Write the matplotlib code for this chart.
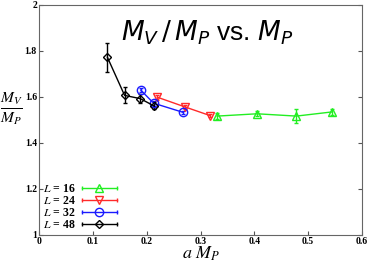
import matplotlib
matplotlib.use("Agg")
import matplotlib.pyplot as plt
from matplotlib.lines import Line2D
from matplotlib.legend_handler import HandlerBase

x16 = [0.331, 0.405, 0.478, 0.544]
y16 = [1.517, 1.527, 1.517, 1.535]
e16 = [0.012, 0.010, 0.030, 0.012]

x24 = [0.220, 0.271, 0.318]
y24 = [1.599, 1.557, 1.519]
e24 = [0.010, 0.008, 0.006]

x32 = [0.189, 0.213, 0.268]
y32 = [1.630, 1.573, 1.533]
e32 = [0.010, 0.010, 0.008]

x48 = [0.127, 0.159, 0.188, 0.213]
y48 = [1.773, 1.607, 1.593, 1.562]
e48 = [0.063, 0.035, 0.020, 0.015]

labels = ["$L$ = 16", "$L$ = 24", "$L$ = 32", "$L$ = 48"]
colors = ["#22ee22", "#ff2a2a", "#1a1aff", "#000000"]
markers = ["^", "v", "o", "D"]
msizes = [6, 6, 6, 4.5]

plt.rcParams['mathtext.fontset'] = 'stix'
plt.rcParams['font.family'] = ['Liberation Serif', 'DejaVu Serif']


class HandlerHErr(HandlerBase):
    def create_artists(self, legend, orig_handle, xdescent, ydescent, width, height, fontsize, trans):
        y = height / 2 - ydescent
        x0, x1 = -xdescent, width - xdescent
        c = orig_handle.get_color()
        ln = Line2D([x0, x1], [y, y], color=c, lw=1.0, transform=trans)
        caps = Line2D([x0, x1], [y, y], color=c, lw=0, marker='|', markersize=3,
                      markeredgewidth=1.0, transform=trans)
        mk = Line2D([(x0 + x1) / 2], [y], color=c, lw=0, marker=orig_handle.get_marker(),
                    markersize=orig_handle.get_markersize(), markerfacecolor='none',
                    markeredgewidth=1.0, transform=trans)
        return [ln, caps, mk]


fig = plt.figure(figsize=(3.74, 2.68), dpi=100)
ax = fig.add_axes([39/374, 1-235/268, 323/374, 230/268])

handles = []
for xs, ys, es, lab, c, m, ms in zip([x16, x24, x32, x48], [y16, y24, y32, y48],
                                     [e16, e24, e32, e48], labels, colors, markers, msizes):
    ax.errorbar(xs, ys, yerr=es, color=c, marker=m, markersize=ms, markerfacecolor='none',
                markeredgewidth=1.0, linewidth=1.0, capsize=1.5, elinewidth=1.0)
    handles.append(Line2D([], [], color=c, marker=m, markersize=ms, label=lab))

ax.set_xlim(0, 0.6)
ax.set_ylim(1, 2)
ax.set_xticks([0, 0.1, 0.2, 0.3, 0.4, 0.5, 0.6])
ax.set_xticklabels(["0", "0.1", "0.2", "0.3", "0.4", "0.5", "0.6"], fontweight='bold')
ax.set_yticks([1, 1.2, 1.4, 1.6, 1.8, 2])
ax.set_yticklabels(["1", "1.2", "1.4", "1.6", "1.8", "2"], fontweight='bold')
ax.tick_params(direction='in', right=True, top=False, labelsize=7, length=3, pad=1.5,
               color='#555555')
for s in ax.spines.values():
    s.set_color('#666666')

ax.set_xlabel("$a\\ M_P$", fontsize=13, labelpad=-1)
ax.set_ylabel("$\\frac{M_V}{M_P}$", fontsize=16, rotation=0, va='center', ha='center')
ax.yaxis.set_label_coords(-0.085, 0.55)

ax.text(0.312, 1.878, "$M_V\\,/\\,M_P$ vs. $M_P$", fontsize=19, ha='center', va='center',
        family=['Liberation Sans'], math_fontfamily='dejavusans')

leg = ax.legend(handles=handles, handler_map={Line2D: HandlerHErr()}, loc='lower left',
                frameon=False, markerfirst=False, prop={'weight': 'bold', 'size': 8.5},
                handlelength=3.0, labelspacing=0.0, borderaxespad=0.1, borderpad=0.25,
                handletextpad=0.5)

fig.savefig("out.png", dpi=100)
